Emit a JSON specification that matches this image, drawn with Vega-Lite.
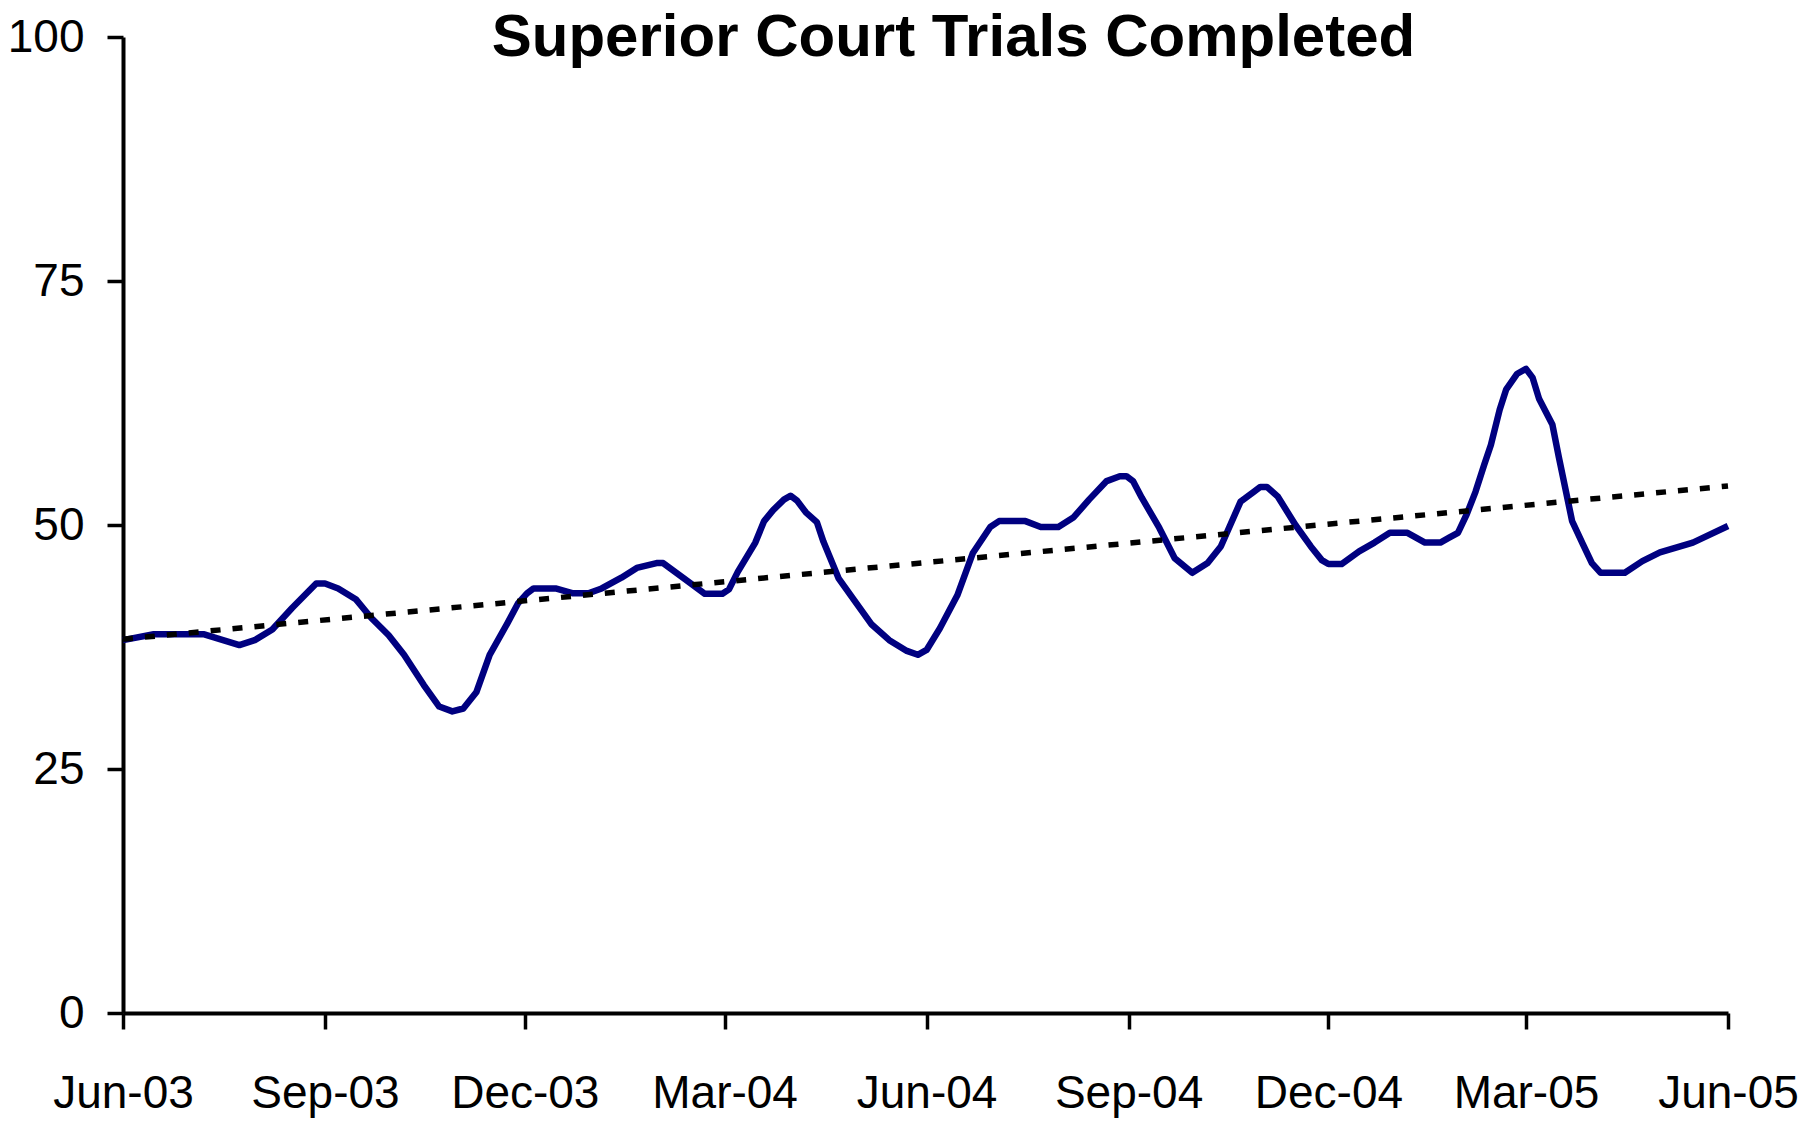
{
  "$schema": "https://vega.github.io/schema/vega-lite/v6.json",
  "width": 1605,
  "height": 976,
  "autosize": {"type": "none"},
  "padding": {"left": 123, "top": 37, "right": 72, "bottom": 111},
  "background": "white",
  "title": {
    "text": "Superior Court Trials Completed",
    "font": "Liberation Sans, Arial, sans-serif",
    "fontSize": 60,
    "fontWeight": "bold",
    "color": "black",
    "anchor": "middle",
    "frame": "group",
    "baseline": "alphabetic",
    "offset": -62,
    "dx": 28,
    "dy": 40
  },
  "datasets": {
    "trials": [
      {"date": "2003-06-01", "value": 38.2},
      {"date": "2003-06-15", "value": 38.8},
      {"date": "2003-07-08", "value": 38.8},
      {"date": "2003-07-24", "value": 37.7},
      {"date": "2003-07-31", "value": 38.2},
      {"date": "2003-08-08", "value": 39.3},
      {"date": "2003-08-17", "value": 41.5},
      {"date": "2003-08-28", "value": 44.0},
      {"date": "2003-09-01", "value": 44.0},
      {"date": "2003-09-07", "value": 43.5},
      {"date": "2003-09-15", "value": 42.4},
      {"date": "2003-09-22", "value": 40.5},
      {"date": "2003-09-30", "value": 38.7},
      {"date": "2003-10-07", "value": 36.7},
      {"date": "2003-10-16", "value": 33.6},
      {"date": "2003-10-23", "value": 31.4},
      {"date": "2003-10-29", "value": 30.9},
      {"date": "2003-11-03", "value": 31.2},
      {"date": "2003-11-09", "value": 32.9},
      {"date": "2003-11-15", "value": 36.7},
      {"date": "2003-11-23", "value": 39.9},
      {"date": "2003-11-28", "value": 42.0},
      {"date": "2003-12-02", "value": 43.0},
      {"date": "2003-12-05", "value": 43.5},
      {"date": "2003-12-15", "value": 43.5},
      {"date": "2003-12-23", "value": 43.0},
      {"date": "2003-12-30", "value": 43.0},
      {"date": "2004-01-05", "value": 43.5},
      {"date": "2004-01-14", "value": 44.6},
      {"date": "2004-01-21", "value": 45.6},
      {"date": "2004-01-30", "value": 46.1},
      {"date": "2004-02-02", "value": 46.1},
      {"date": "2004-02-11", "value": 44.6},
      {"date": "2004-02-21", "value": 42.95},
      {"date": "2004-02-29", "value": 42.95},
      {"date": "2004-03-03", "value": 43.4},
      {"date": "2004-03-07", "value": 45.2},
      {"date": "2004-03-15", "value": 48.2},
      {"date": "2004-03-19", "value": 50.4},
      {"date": "2004-03-23", "value": 51.5},
      {"date": "2004-03-28", "value": 52.6},
      {"date": "2004-03-31", "value": 53.0},
      {"date": "2004-04-03", "value": 52.5},
      {"date": "2004-04-07", "value": 51.3},
      {"date": "2004-04-12", "value": 50.3},
      {"date": "2004-04-15", "value": 48.3},
      {"date": "2004-04-22", "value": 44.5},
      {"date": "2004-04-29", "value": 42.3},
      {"date": "2004-05-07", "value": 39.8},
      {"date": "2004-05-15", "value": 38.2},
      {"date": "2004-05-23", "value": 37.1},
      {"date": "2004-05-28", "value": 36.7},
      {"date": "2004-06-01", "value": 37.2},
      {"date": "2004-06-07", "value": 39.4},
      {"date": "2004-06-15", "value": 42.8},
      {"date": "2004-06-22", "value": 47.1},
      {"date": "2004-06-30", "value": 49.8},
      {"date": "2004-07-04", "value": 50.4},
      {"date": "2004-07-16", "value": 50.4},
      {"date": "2004-07-23", "value": 49.8},
      {"date": "2004-07-31", "value": 49.8},
      {"date": "2004-08-07", "value": 50.8},
      {"date": "2004-08-14", "value": 52.6},
      {"date": "2004-08-22", "value": 54.5},
      {"date": "2004-08-28", "value": 55.0},
      {"date": "2004-08-31", "value": 55.0},
      {"date": "2004-09-03", "value": 54.5},
      {"date": "2004-09-07", "value": 52.8},
      {"date": "2004-09-15", "value": 49.7},
      {"date": "2004-09-22", "value": 46.6},
      {"date": "2004-09-30", "value": 45.1},
      {"date": "2004-10-07", "value": 46.1},
      {"date": "2004-10-13", "value": 47.8},
      {"date": "2004-10-22", "value": 52.4},
      {"date": "2004-10-28", "value": 53.4},
      {"date": "2004-10-31", "value": 53.9},
      {"date": "2004-11-03", "value": 53.9},
      {"date": "2004-11-08", "value": 52.9},
      {"date": "2004-11-16", "value": 50.0},
      {"date": "2004-11-23", "value": 47.8},
      {"date": "2004-11-28", "value": 46.4},
      {"date": "2004-12-01", "value": 46.0},
      {"date": "2004-12-07", "value": 46.0},
      {"date": "2004-12-15", "value": 47.3},
      {"date": "2004-12-22", "value": 48.2},
      {"date": "2004-12-29", "value": 49.2},
      {"date": "2005-01-06", "value": 49.2},
      {"date": "2005-01-14", "value": 48.2},
      {"date": "2005-01-21", "value": 48.2},
      {"date": "2005-01-25", "value": 48.7},
      {"date": "2005-01-29", "value": 49.2},
      {"date": "2005-02-02", "value": 51.1},
      {"date": "2005-02-06", "value": 53.4},
      {"date": "2005-02-10", "value": 56.2},
      {"date": "2005-02-13", "value": 58.2},
      {"date": "2005-02-17", "value": 61.8},
      {"date": "2005-02-20", "value": 63.9},
      {"date": "2005-02-25", "value": 65.5},
      {"date": "2005-03-01", "value": 66.0},
      {"date": "2005-03-04", "value": 65.1},
      {"date": "2005-03-07", "value": 62.9},
      {"date": "2005-03-13", "value": 60.3},
      {"date": "2005-03-16", "value": 56.9},
      {"date": "2005-03-22", "value": 50.4},
      {"date": "2005-03-27", "value": 48.0},
      {"date": "2005-03-31", "value": 46.1},
      {"date": "2005-04-04", "value": 45.1},
      {"date": "2005-04-15", "value": 45.1},
      {"date": "2005-04-23", "value": 46.3},
      {"date": "2005-05-01", "value": 47.2},
      {"date": "2005-05-16", "value": 48.2},
      {"date": "2005-06-01", "value": 49.9}
    ],
    "trend": [
      {"date": "2003-06-01", "value": 38.3},
      {"date": "2005-06-01", "value": 54.0}
    ]
  },
  "encoding": {
    "x": {
      "field": "date",
      "type": "temporal",
      "scale": {
        "type": "utc",
        "nice": false,
        "domain": [
          {"year": 2003, "month": 6, "date": 1, "utc": true},
          {"year": 2005, "month": 6, "date": 1, "utc": true}
        ]
      },
      "axis": {
        "title": null,
        "format": "%b-%y",
        "values": [
          {"year": 2003, "month": 6, "date": 1, "utc": true},
          {"year": 2003, "month": 9, "date": 1, "utc": true},
          {"year": 2003, "month": 12, "date": 1, "utc": true},
          {"year": 2004, "month": 3, "date": 1, "utc": true},
          {"year": 2004, "month": 6, "date": 1, "utc": true},
          {"year": 2004, "month": 9, "date": 1, "utc": true},
          {"year": 2004, "month": 12, "date": 1, "utc": true},
          {"year": 2005, "month": 3, "date": 1, "utc": true},
          {"year": 2005, "month": 6, "date": 1, "utc": true}
        ],
        "labelPadding": 42,
        "labelFlush": false,
        "labelOverlap": false
      }
    },
    "y": {
      "field": "value",
      "type": "quantitative",
      "scale": {"domain": [0, 100], "nice": false},
      "axis": {
        "title": null,
        "values": [0, 25, 50, 75, 100],
        "labelPadding": 23,
        "labelFlush": false
      }
    }
  },
  "layer": [
    {
      "data": {"name": "trials"},
      "mark": {"type": "line", "color": "#000080", "strokeWidth": 6.5, "strokeJoin": "round"}
    },
    {
      "data": {"name": "trend"},
      "mark": {"type": "line", "color": "black", "strokeWidth": 5.5, "strokeDash": [10, 12], "strokeCap": "butt"}
    }
  ],
  "config": {
    "view": {"stroke": null},
    "axis": {
      "grid": false,
      "domainColor": "black",
      "domainWidth": 4,
      "tickColor": "black",
      "tickWidth": 3.5,
      "tickSize": 16,
      "labelFont": "Liberation Sans, Arial, sans-serif",
      "labelFontSize": 46,
      "labelColor": "black"
    }
  }
}
